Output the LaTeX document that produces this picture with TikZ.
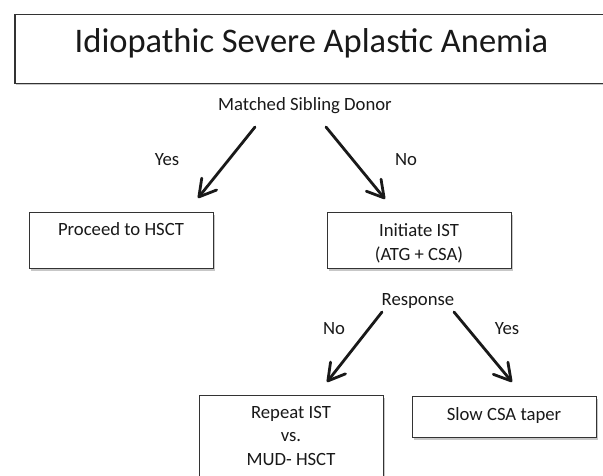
\documentclass[tikz,border=0pt]{standalone}
\usepackage{fontspec}
\setmainfont{Carlito}
\usetikzlibrary{arrows.meta,shadows}
\tikzset{
  boxstyle/.style={draw=black!80, line width=1.2pt, fill=white, inner sep=0pt,
    drop shadow={shadow xshift=1.5pt, shadow yshift=-2pt, opacity=0.22, fill=black}},
  txt/.style={font=\fontsize{18.7}{23.5}\selectfont, text=black!90, inner sep=0pt, align=center, anchor=base},
  titletxt/.style={font=\fontsize{34.5}{40}\selectfont, text=black!90, inner sep=0pt, anchor=base},
  flow/.style={line width=2.8pt, line cap=round, draw=black!90,
    -{Straight Barb[angle=60:19pt, line width=2.8pt, round]}}
}
\begin{document}
\begin{tikzpicture}[x=1pt,y=-1pt]
\clip (0,0) rectangle (603,475);
\fill[white] (0,0) rectangle (603,475);
% title box
\node[boxstyle, line width=1.5pt, anchor=north west, minimum width=620pt, minimum height=69pt] (titlebox) at (14,13.5) {};
\node[titletxt] (title) at (311.5,52) {Idiopathic Severe Aplastic Anemia};
\node[txt] (msd) at (305,110) {Matched Sibling Donor};
% boxes
\node[boxstyle, anchor=north west, minimum width=184pt, minimum height=56pt] (proceed) at (29,212) {};
\node[txt] (proceedtxt) at (121,235) {Proceed to HSCT};
\node[boxstyle, anchor=north west, minimum width=184pt, minimum height=56pt] (ist) at (327,212) {};
\node[txt] (isttxt) at (419,260) {Initiate IST\\(ATG + CSA)};
\node[txt] (resp) at (418,305) {Response};
\node[boxstyle, anchor=north west, minimum width=184pt, minimum height=95pt] (repeat) at (199,395) {};
\node[txt] (repeattxt) at (291,465) {Repeat IST\\vs.\\MUD- HSCT};
\node[boxstyle, anchor=north west, minimum width=184pt, minimum height=41pt] (slow) at (412,396) {};
\node[txt] (slowtxt) at (504,420) {Slow CSA taper};
% labels
\node[txt] (yes1) at (167,165) {Yes};
\node[txt] (no1) at (406,165) {No};
\node[txt] (no2) at (334,334) {No};
\node[txt] (yes2) at (507,334) {Yes};
% arrow ends
\coordinate (a1s) at (255,127); \coordinate (a1e) at (198,198);
\coordinate (a2s) at (326,127); \coordinate (a2e) at (385,199);
\coordinate (a3s) at (382,312); \coordinate (a3e) at (327,382);
\coordinate (a4s) at (454,312); \coordinate (a4e) at (512,382);
\draw[flow] (a1s) -- (a1e);
\draw[flow] (a2s) -- (a2e);
\draw[flow] (a3s) -- (a3e);
\draw[flow] (a4s) -- (a4e);
\end{tikzpicture}
\end{document}
